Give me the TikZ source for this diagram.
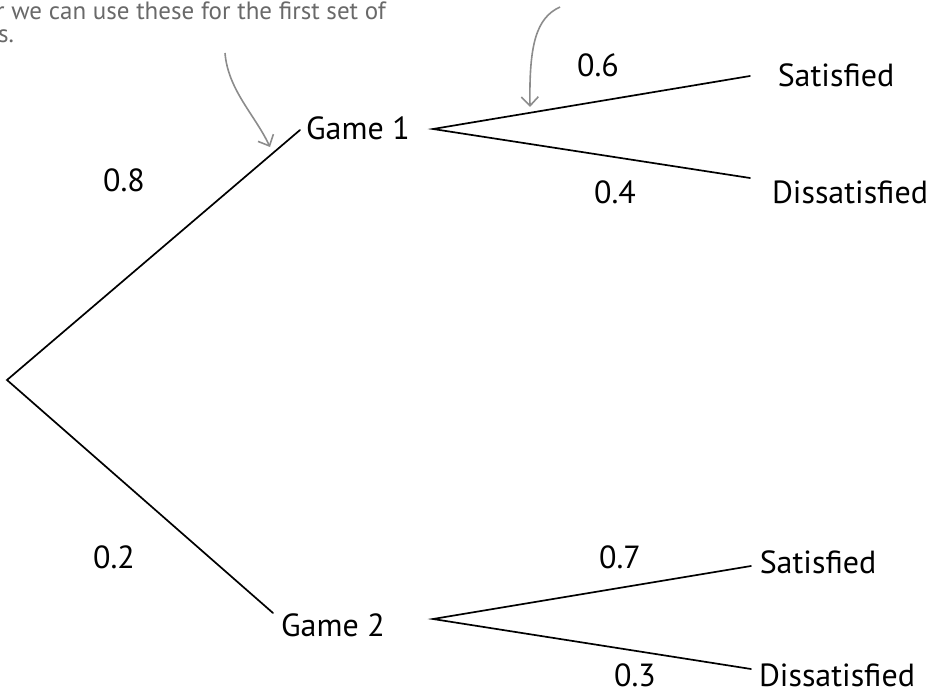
\documentclass[tikz,border=0pt]{standalone}
\usepackage{fontspec}
\setmainfont{PT Sans}
\usepackage{xcolor}
\usetikzlibrary{arrows.meta}

\definecolor{notegrey}{RGB}{105,105,105}
\definecolor{arrowgrey}{RGB}{140,140,140}

\tikzset{
  lbl/.style={font=\fontsize{32}{38}\selectfont, inner sep=0pt, anchor=base},
  note/.style={text=notegrey, font=\fontsize{25}{30}\selectfont, inner sep=0pt, anchor=base west},
  branch/.style={line width=1.7pt, line cap=round},
  pointer/.style={draw=arrowgrey, line width=1.6pt, -{Straight Barb[length=9pt,width=17pt]}}
}

\begin{document}
\begin{tikzpicture}[x=1pt,y=-1pt]

  \useasboundingbox (0,0) rectangle (928,695);
  \clip (0,0) rectangle (928,695);

  \coordinate (R)   at (7,380);
  \coordinate (G1i) at (300,130);
  \coordinate (G1o) at (433,129);
  \coordinate (G2i) at (273,613);
  \coordinate (G2o) at (433,619);
  \coordinate (S1)  at (750,76);
  \coordinate (D1)  at (750,178);
  \coordinate (S2)  at (751,566);
  \coordinate (D2)  at (751,669);
  \coordinate (P1a) at (225,53);
  \coordinate (P1b) at (270,147);
  \coordinate (P2a) at (560,7);
  \coordinate (P2b) at (530,107);

  \node (note1) at (-4,20) [note]{r we can use these for the first set of};
  \node (note2) at (-2,43) [note]{s.};

  \node (game1) at (358,140) [lbl]{Game 1};
  \node (game2) at (333,636) [lbl]{Game 2};
  \node (sat1)  at (836,87)  [lbl]{Satisfied};
  \node (dis1)  at (850,203) [lbl]{Dissatisfied};
  \node (sat2)  at (818,573) [lbl]{Satisfied};
  \node (dis2)  at (837,686) [lbl]{Dissatisfied};

  \node (p08) at (124,192) [lbl]{0.8};
  \node (p02) at (114,568) [lbl]{0.2};
  \node (p06) at (598,77)  [lbl]{0.6};
  \node (p04) at (615,203) [lbl]{0.4};
  \node (p07) at (620,568) [lbl]{0.7};
  \node (p03) at (635,686) [lbl]{0.3};

  \draw[branch] (G1i) -- (R) -- (G2i);
  \draw[branch] (S1) -- (G1o) -- (D1);
  \draw[branch] (S2) -- (G2o) -- (D2);

  \draw[pointer] (P1a) .. controls (228,90) and (255,115) .. (P1b);
  \draw[pointer] (P2a) .. controls (536,18) and (529,45) .. (P2b);

\end{tikzpicture}
\end{document}
